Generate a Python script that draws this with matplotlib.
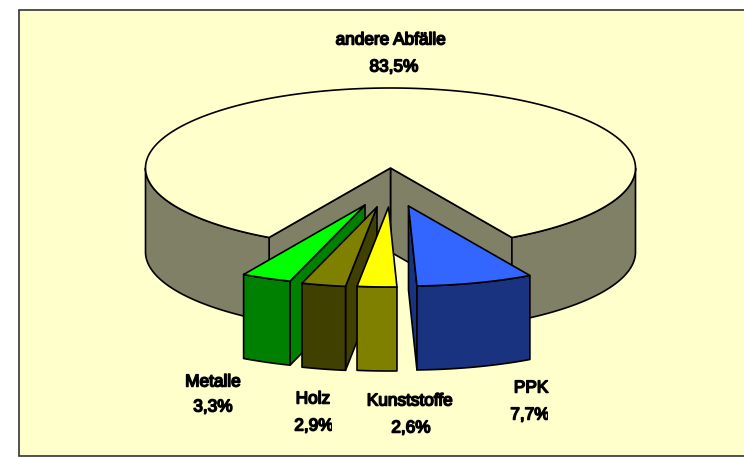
import numpy as np
import matplotlib
matplotlib.use("Agg")
import matplotlib.pyplot as plt
import matplotlib.patheffects as pe
from matplotlib.patches import Polygon, Rectangle

# data
categories = ["andere Abfälle", "PPK", "Kunststoffe", "Holz", "Metalle"]
shares = [83.5, 7.7, 2.6, 2.9, 3.3]
share_labels = ["83,5%", "7,7%", "2,6%", "2,9%", "3,3%"]

# style / layout (pixels)
CX, CY, A, B, H = 390.5, 168, 245, 80, 84
tops = ["#FFFFCC", "#3366FF", "#FFFF00", "#808000", "#00FF00"]
sides = ["#808066", "#1A3380", "#808000", "#404000", "#008000"]
offsets = [(0, 0), (18, 38), (-2, 39), (-13.5, 39), (-25.5, 37)]
label_pos = [(391, 40), (531, 388), (410, 401), (313, 399), (213, 382)]
value_pos = [(394, 67), (530, 415), (411, 428), (314, 426), (213, 407)]
clip_right = [None, 548, None, 332, None]
LW = 1.2

fig = plt.figure(figsize=(7.44, 4.57), dpi=100, facecolor="white")
ax = fig.add_axes([0, 0, 1, 1])
ax.set_xlim(0, 744)
ax.set_ylim(457, 0)
ax.axis("off")
ax.add_patch(Rectangle((18.5, 9.5), 740, 446.5, fc="#FFFFCC", ec="#333333", lw=1.2))


def rim(phi, dx=0, dy=0):
    r = np.radians(phi)
    return np.column_stack([CX + dx + A * np.sin(r), CY + dy + B * np.cos(r)])


def poly(pts, fc):
    ax.add_patch(Polygon(pts, closed=True, fc=fc, ec="black", lw=LW, joinstyle="round"))


def wall(phi0, phi1, dx, dy, fc):
    p = rim(np.linspace(phi0, phi1, 80), dx, dy)
    poly(np.vstack([p, (p + [0, H])[::-1]]), fc)


def side(apex, p, fc):
    poly(np.vstack([apex, p, p + [0, H], apex + [0, H]]), fc)


def cross(u, v):
    return u[0] * v[1] - u[1] * v[0]


small_total = sum(shares[1:])
half_gap = 360 * small_total / 100 / 2

# main slice
p0 = rim(np.array([half_gap]))[0]
p1 = rim(np.array([360 - half_gap]))[0]
apex = np.array([CX, CY], float)
side(apex, p0, sides[0])
side(apex, p1, sides[0])
wall(half_gap, 90, 0, 0, sides[0])
wall(270, 360 - half_gap, 0, 0, sides[0])
poly(np.vstack([apex, rim(np.linspace(half_gap, 360 - half_gap, 300))]), tops[0])

# exploded slices, drawn from left to right
spans = []
phi = half_gap
for v in shares[1:]:
    spans.append((phi - 3.6 * v, phi))
    phi -= 3.6 * v

for i in [4, 3, 2, 1]:
    lo, hi = spans[i - 1]
    dx, dy = offsets[i]
    a = np.array([CX + dx, CY + dy], float)
    pl = rim(np.array([lo]), dx, dy)[0]
    ph = rim(np.array([hi]), dx, dy)[0]
    for p, q in ((pl, ph), (ph, pl)):
        if cross(p - a, (0, 1)) * cross(p - a, q - a) < 0:
            side(a, p, sides[i])
    wall(lo, hi, dx, dy, sides[i])
    poly(np.vstack([a, rim(np.linspace(lo, hi, 40), dx, dy)]), tops[i])

# labels: regular face thickened with a thin stroke, as in the reference
font = dict(family="Liberation Sans", size=12.4, color="black", ha="center", va="center",
            path_effects=[pe.withStroke(linewidth=1.1, foreground="black")])
for name, val, lp, vp, cr in zip(categories, share_labels, label_pos, value_pos, clip_right):
    ax.text(*lp, name, **font)
    t = ax.text(*vp, val, **font)
    if cr is not None:
        t.set_clip_on(True)
        t.set_clip_path(Rectangle((vp[0] - 40, vp[1] - 20), cr - vp[0] + 40, 40,
                                  transform=ax.transData))

fig.savefig("out.png", dpi=100, facecolor="white")
